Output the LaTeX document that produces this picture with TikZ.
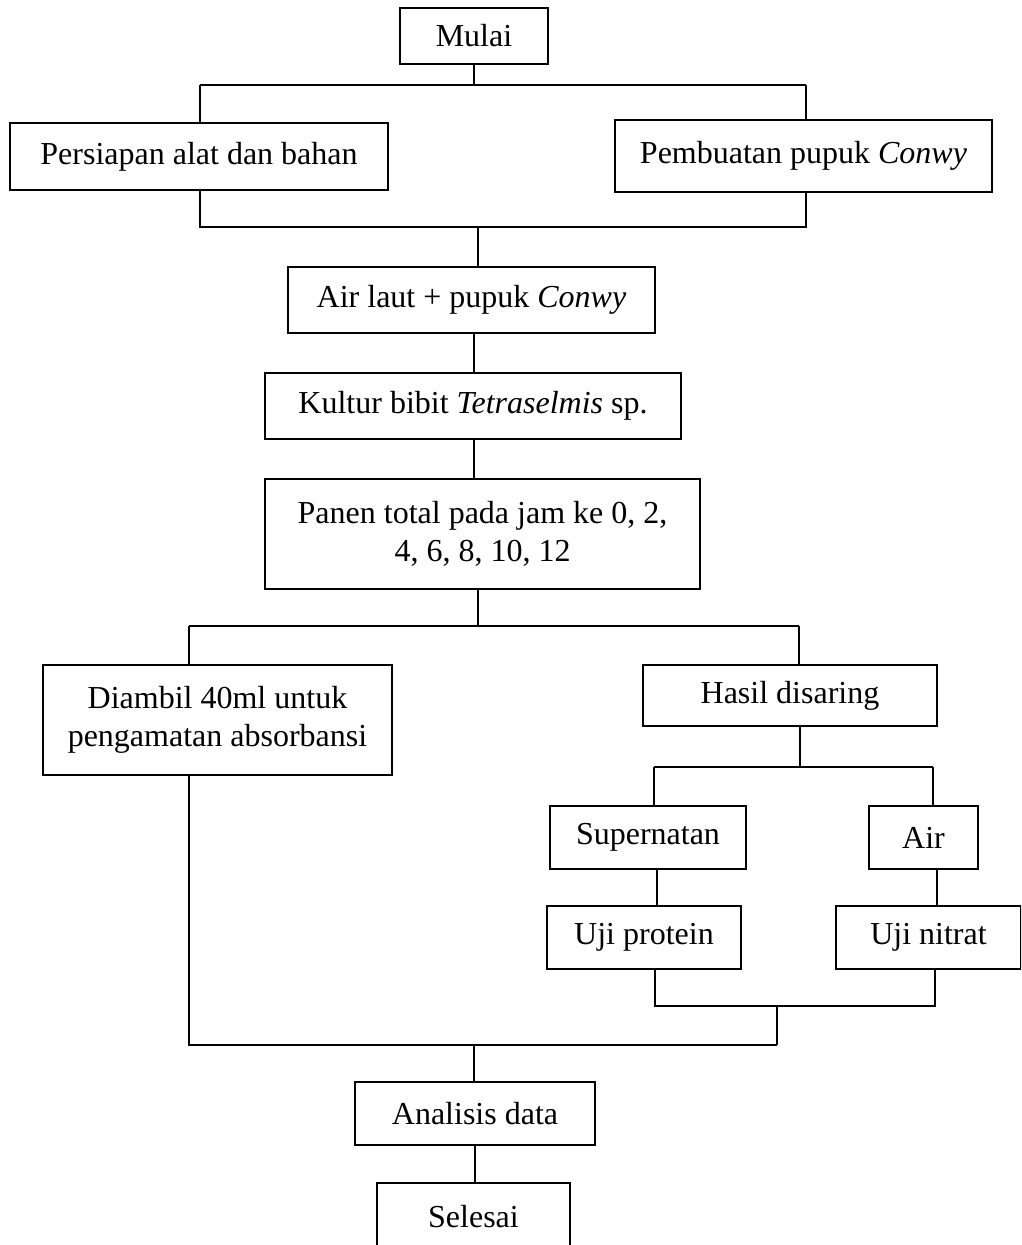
\documentclass[tikz,border=0pt]{standalone}
\usepackage{fontspec}
\setmainfont{Liberation Serif}
\begin{document}
\begin{tikzpicture}[x=1pt,y=-1pt,
  box/.style={draw, line width=1.6pt, inner sep=0pt, align=center,
    font=\fontsize{32}{38}\selectfont},
  conn/.style={line width=1.6pt}]
\clip (0,0) rectangle (1021,1245);
\fill[white] (0,0) rectangle (1021,1245);
% boxes
\node[box, minimum width=148, minimum height=56] (mulai) at (474,36) {Mulai};
\node[box, minimum width=378, minimum height=67] (persiapan) at (199,156.5) {Persiapan alat dan bahan};
\node[box, minimum width=377, minimum height=72] (pembuatan) at (803.5,156) {Pembuatan pupuk \textit{Conwy}};
\node[box, minimum width=367, minimum height=66] (airlaut) at (471.5,300) {Air laut + pupuk \textit{Conwy}};
\node[box, minimum width=416, minimum height=66] (kultur) at (473,406) {Kultur bibit \textit{Tetraselmis} sp.};
\node[box, minimum width=435, minimum height=110] (panen) at (482.5,534) {Panen total pada jam ke 0, 2,\\4, 6, 8, 10, 12};
\node[box, minimum width=349, minimum height=110] (diambil) at (217.5,720) {Diambil 40ml untuk\\pengamatan absorbansi};
\node[box, minimum width=294, minimum height=61] (hasil) at (790,695.5) {Hasil disaring};
\node[box, minimum width=196, minimum height=63] (super) at (648,837.5) {Supernatan};
\node[box, minimum width=109, minimum height=63] (air) at (923.5,837.5) {Air};
\node[box, minimum width=194, minimum height=63] (ujiprot) at (644,937.5) {Uji protein};
\node[box, minimum width=185, minimum height=63] (ujinit) at (928.5,937.5) {Uji nitrat};
\node[box, minimum width=240, minimum height=63] (analisis) at (475,1113.5) {Analisis data};
\node[box, minimum width=193, minimum height=67] (selesai) at (473.5,1216.5) {Selesai};
% junction coordinates
\coordinate (j1) at (474,85);
\coordinate (j1l) at (200,85);
\coordinate (j1r) at (806,85);
\coordinate (j2l) at (200,227);
\coordinate (j2r) at (806,227);
\coordinate (j2m) at (478,227);
\coordinate (j3) at (478,626);
\coordinate (j3l) at (189,626);
\coordinate (j3r) at (799,626);
\coordinate (j4) at (800,767);
\coordinate (j4l) at (654,767);
\coordinate (j4r) at (933,767);
\coordinate (j5l) at (655,1006);
\coordinate (j5r) at (935,1006);
\coordinate (j5m) at (777,1006);
\coordinate (j6l) at (189,1045);
\coordinate (j6r) at (777,1045);
\coordinate (j6m) at (474,1045);
% connectors
\draw[conn] (mulai.south) -- (j1);
\draw[conn] (j1l) -- (j1r);
\draw[conn] (j1l) -- (j1l |- persiapan.north);
\draw[conn] (j1r) -- (j1r |- pembuatan.north);
\draw[conn] (j2l |- persiapan.south) -- (j2l) -- (j2r) -- (j2r |- pembuatan.south);
\draw[conn] (j2m) -- (j2m |- airlaut.north);
\draw[conn] (474,333) coordinate (a1) -- (a1 |- kultur.north);
\draw[conn] (474,439) coordinate (a2) -- (a2 |- panen.north);
\draw[conn] (j3 |- panen.south) -- (j3);
\draw[conn] (j3l) -- (j3r);
\draw[conn] (j3l) -- (j3l |- diambil.north);
\draw[conn] (j3r) -- (j3r |- hasil.north);
\draw[conn] (j4 |- hasil.south) -- (j4);
\draw[conn] (j4l) -- (j4r);
\draw[conn] (j4l) -- (j4l |- super.north);
\draw[conn] (j4r) -- (j4r |- air.north);
\draw[conn] (657,869) coordinate (a3) -- (a3 |- ujiprot.north);
\draw[conn] (937,869) coordinate (a4) -- (a4 |- ujinit.north);
\draw[conn] (j5l |- ujiprot.south) -- (j5l) -- (j5r) -- (j5r |- ujinit.south);
\draw[conn] (j5m) -- (j6r);
\draw[conn] (j6l |- diambil.south) -- (j6l) -- (j6r);
\draw[conn] (j6m) -- (j6m |- analisis.north);
\draw[conn] (analisis.south) -- (analisis.south |- selesai.north);
\end{tikzpicture}
\end{document}
